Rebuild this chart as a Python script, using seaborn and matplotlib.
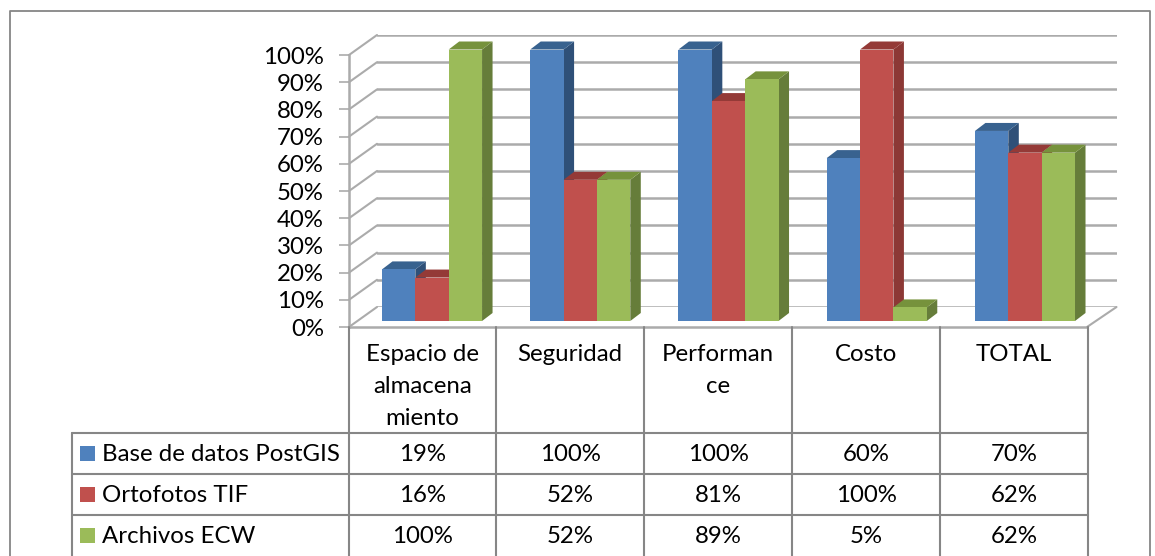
import matplotlib
matplotlib.use("Agg")
import matplotlib.pyplot as plt
import pandas as pd
import seaborn as sns
from matplotlib.patches import ConnectionPatch, Polygon, Rectangle

# ---- data ----
categories = ["Espacio de\nalmacena\nmiento", "Seguridad", "Performan\nce", "Costo", "TOTAL"]
series_names = ["Base de datos PostGIS", "Ortofotos TIF", "Archivos ECW"]
postgis = [19, 100, 100, 60, 70]
ortofotos = [16, 52, 81, 100, 62]
ecw = [100, 52, 89, 5, 62]
y_ticks = list(range(0, 101, 10))

# ---- styles ----
front_colors = ["#4F81BD", "#C0504D", "#9BBB59"]
side_colors = ["#2F5078", "#8C3835", "#667D3A"]
top_colors = ["#38628F", "#943A37", "#76923C"]
GRID = "#ABABAB"
LINE = "#868686"
W, H = 1155, 556

sns.set_theme(style="white")
plt.rcParams["font.family"] = ["Lato", "DejaVu Sans"]
FS = 17.3


def rect(x0, y_top, x1, y_bot):
    return [x0 / W, 1 - y_bot / H, (x1 - x0) / W, (y_bot - y_top) / H]


fig = plt.figure(figsize=(W / 100, H / 100), dpi=100, facecolor="white")

# back wall: gridlines
wall = fig.add_axes(rect(377, 35, 1116.5, 307), zorder=0)
wall.set_ylim(0, 100)
wall.set_xlim(0, 1)
wall.set_yticks(y_ticks)
wall.set_xticks([])
wall.tick_params(left=False, labelleft=False)
wall.grid(axis="y", color=GRID, lw=1.8)
sns.despine(ax=wall, left=True, bottom=True)
wall.patch.set_alpha(0)

# front plane: value axis and floor edge
front = fig.add_axes(rect(349, 55, 1087, 327), zorder=1)
front.set_ylim(0, 100)
front.set_xlim(0, 1)
front.set_yticks(y_ticks)
front.set_yticklabels([f"{v}%" for v in y_ticks], fontsize=FS, color="black")
front.set_xticks([])
front.tick_params(axis="y", left=True, length=7, width=1.2, color=GRID, pad=11)
sns.despine(ax=front)
for side in ("left", "bottom"):
    front.spines[side].set_color(GRID)
    front.spines[side].set_linewidth(1.8)
front.patch.set_alpha(0)

# depth connectors on the side wall and floor
for v in y_ticks:
    fig.add_artist(ConnectionPatch((0, v), (0, v), coordsA=front.transData, coordsB=wall.transData,
                                   color=GRID, lw=1.5, zorder=0.5))
fig.add_artist(ConnectionPatch((1, 0), (1, 0), coordsA=front.transData, coordsB=wall.transData,
                               color=GRID, lw=1.5, zorder=0.5))

# bars
df = pd.DataFrame({
    "categoria": categories * 3,
    "serie": [s for s in series_names for _ in categories],
    "valor": postgis + ortofotos + ecw,
})
bars = fig.add_axes(rect(357.9, 49.5, 1099.1, 321), zorder=2)
sns.barplot(data=df, x="categoria", y="valor", hue="serie", hue_order=series_names,
            palette=front_colors, width=0.675, gap=0, saturation=1, legend=False,
            order=categories, ax=bars, linewidth=0)
bars.set_ylim(0, 100)
bars.set_xlim(-0.5, 4.5)
bars.axis("off")

dx = 10.5 / (741.2 / 5)
dy = 8 / 2.715
for h, container in enumerate(bars.containers):
    for patch in container:
        x0, y0 = patch.get_x(), patch.get_y()
        w, ht = patch.get_width(), patch.get_height()
        x1, y1 = x0 + w, y0 + ht
        patch.set_zorder(4 + 2 * h)
        bars.add_patch(Polygon([(x1, y0), (x1 + dx, y0 + dy), (x1 + dx, y1 + dy), (x1, y1)],
                               closed=True, fc=side_colors[h], ec="none", zorder=3 + 2 * h, clip_on=False))
        bars.add_patch(Polygon([(x0, y1), (x0 + dx, y1 + dy), (x1 + dx, y1 + dy), (x1, y1)],
                               closed=True, fc=top_colors[h], ec="none", zorder=3 + 2 * h, clip_on=False))

# overlay in pixel units: chart border and data table
over = fig.add_axes([0, 0, 1, 1], zorder=3)
over.set_xlim(0, W)
over.set_ylim(H, 0)
over.axis("off")
over.patch.set_alpha(0)

over.plot([9.5, 9.5, 1149.5, 1149.5], [H + 5, 10.5, 10.5, H + 5], color=LINE, lw=1.3, clip_on=True)

col_edges = [348.5, 496, 644, 792, 940, 1087.5]
row_edges = [433, 474, 515, H + 5]
for x in col_edges:
    over.plot([x, x], [327, H + 5], color=LINE, lw=1.5)
over.plot([71.5, 71.5], [433, H + 5], color=LINE, lw=1.5)
for y in row_edges[:-1]:
    over.plot([71.5, 1087.5], [y, y], color=LINE, lw=1.5)

centers = [(a + b) / 2 for a, b in zip(col_edges[:-1], col_edges[1:])]
for c, label in zip(centers, categories):
    over.text(c, 344, label, ha="center", va="top", fontsize=FS, color="black", linespacing=1.66)

rows = [postgis, ortofotos, ecw]
for r, (name, vals) in enumerate(zip(series_names, rows)):
    yc = (row_edges[r] + row_edges[r + 1] - (5 if r == 2 else 0)) / 2 + 1
    over.add_patch(Rectangle((80, yc - 8.5), 15, 15, fc=front_colors[r], ec="none"))
    over.text(102, yc, name, ha="left", va="center", fontsize=FS, color="black")
    for c, v in zip(centers, vals):
        over.text(c, yc, f"{v}%", ha="center", va="center", fontsize=FS, color="black")

fig.savefig("out.png", dpi=100, facecolor="white")
